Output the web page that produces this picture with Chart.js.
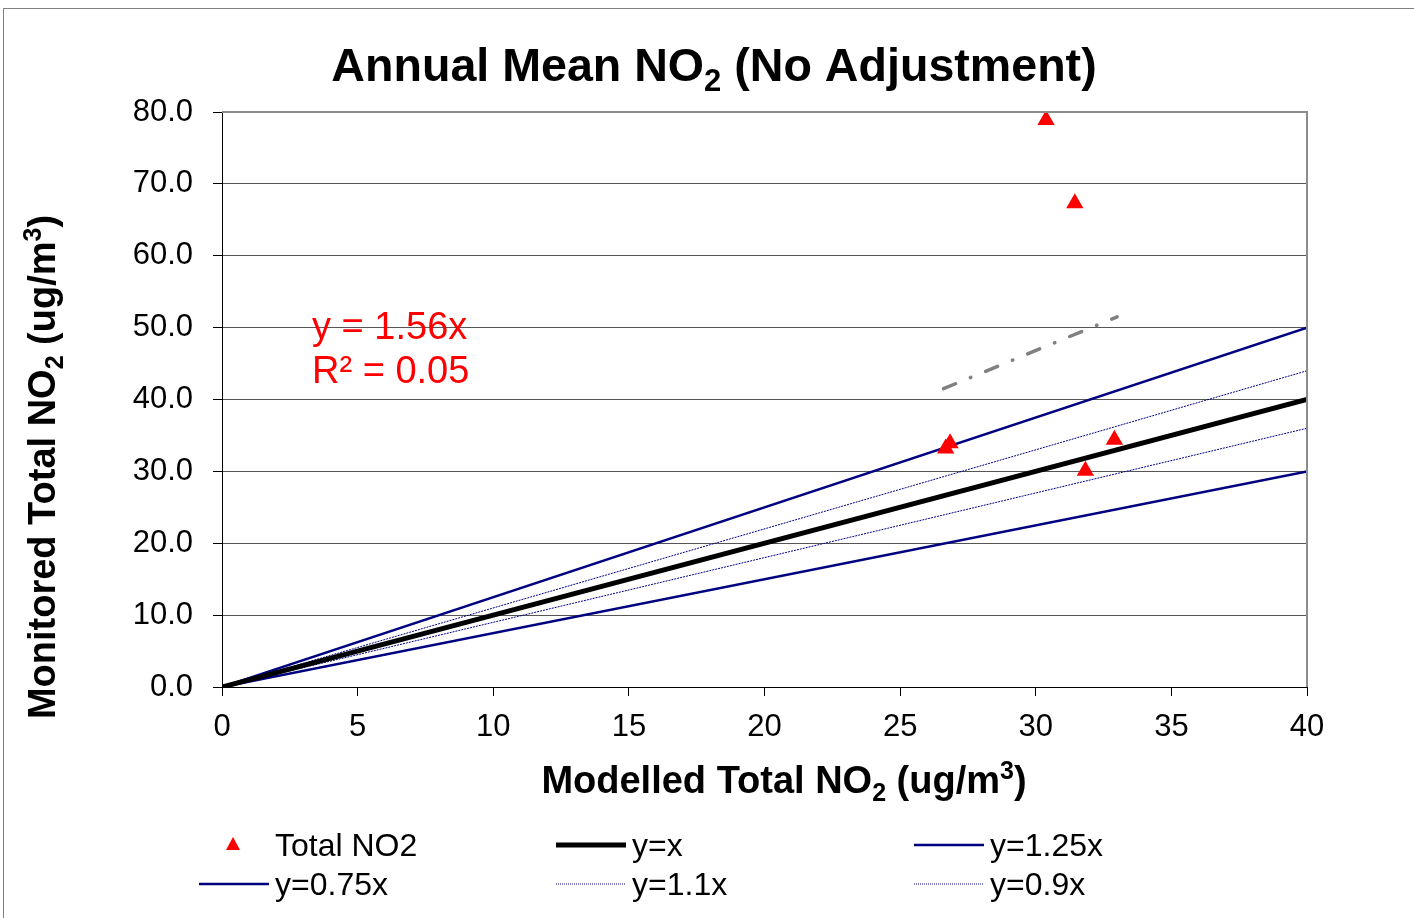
<!DOCTYPE html>
<html>
<head>
<meta charset="utf-8">
<script src="https://cdn.jsdelivr.net/npm/chart.js@4"></script>
<style>
  html, body { margin: 0; padding: 0; background: #fff; }
  #wrap { position: relative; width: 1414px; height: 918px; }
  canvas { display: block; }
</style>
</head>
<body>
<div id="wrap"><canvas id="no2Chart" width="1414" height="918"></canvas></div>
<script>
// --- DATA ---
const modelledNO2 = [30.38, 31.44, 26.68, 26.84, 32.90, 31.83];
const monitoredNO2 = [78.9, 67.3, 33.2, 33.9, 34.4, 30.1];

// reference lines, given by their two end points (x = 0 and x = 40)
const refX = [0, 40];
const refYx = [0, 40];
const refY125 = [0, 50];
const refY075 = [0, 30];
const refY11 = [0, 44];
const refY09 = [0, 36];

// linear trendline through origin, drawn over the range of the data
const trendX = [26.6, 33.0];
const trendY = [41.5, 51.5];

const xTicks = [0, 5, 10, 15, 20, 25, 30, 35, 40];
const yTicks = [0, 10, 20, 30, 40, 50, 60, 70, 80];

const trendLabel = ['y = 1.56x', 'R\u00b2 = 0.05'];

const FONT = '"Liberation Sans", Arial, sans-serif';
const NAVY = '#000080';

const toPoints = (xs, ys) => xs.map((x, i) => ({ x: x, y: ys[i] }));

// --- RICH TEXT (subscript / superscript) ---
function partFont(p, size, bold) {
  const s = (p.sub || p.sup) ? Math.round(size * 0.66) : size;
  return (bold ? 'bold ' : '') + s + 'px ' + FONT;
}

function drawRich(ctx, parts, size, bold, x, y, align) {
  const widths = parts.map(p => { ctx.font = partFont(p, size, bold); return ctx.measureText(p.t).width; });
  const total = widths.reduce((a, b) => a + b, 0);
  let cx = align === 'center' ? x - total / 2 : x;
  ctx.textBaseline = 'alphabetic';
  ctx.textAlign = 'left';
  parts.forEach((p, i) => {
    ctx.font = partFont(p, size, bold);
    let dy = 0;
    if (p.sub) dy = size * 0.22;
    if (p.sup) dy = -size * 0.36;
    ctx.fillText(p.t, cx, y + dy);
    cx += widths[i];
  });
}

// --- DECORATION PLUGIN: borders, titles, trend label, legend ---
const decorPlugin = {
  id: 'decor',
  afterDraw(chart) {
    const ctx = chart.ctx;
    const a = chart.chartArea;
    ctx.save();

    // outer chart border
    ctx.strokeStyle = '#808080';
    ctx.lineWidth = 1;
    ctx.strokeRect(3.5, 8.5, 1500, 1000);

    // plot area top and right border
    ctx.strokeStyle = '#8c8c8c';
    ctx.lineWidth = 2;
    ctx.beginPath();
    ctx.moveTo(a.left, a.top);
    ctx.lineTo(a.right, a.top);
    ctx.lineTo(a.right, a.bottom);
    ctx.stroke();

    ctx.fillStyle = '#000';
    // title
    drawRich(ctx, [{ t: 'Annual Mean NO' }, { t: '2', sub: true }, { t: ' (No Adjustment)' }],
      46.6, true, 714, 81, 'center');

    // x axis title
    drawRich(ctx, [{ t: 'Modelled Total NO' }, { t: '2', sub: true }, { t: ' (ug/m' }, { t: '3', sup: true }, { t: ')' }],
      38, true, 784, 793, 'center');

    // y axis title
    ctx.save();
    ctx.translate(55, 467);
    ctx.rotate(-Math.PI / 2);
    drawRich(ctx, [{ t: 'Monitored Total NO' }, { t: '2', sub: true }, { t: ' (ug/m' }, { t: '3', sup: true }, { t: ')' }],
      38, true, 0, 0, 'center');
    ctx.restore();

    // trendline equation
    ctx.fillStyle = '#ff0000';
    ctx.font = '38px ' + FONT;
    ctx.textAlign = 'left';
    ctx.textBaseline = 'alphabetic';
    ctx.fillText(trendLabel[0], a.left + 90, 339);
    ctx.fillText(trendLabel[1], a.left + 90, 383);

    // legend, 3 columns x 2 rows
    const cols = [275, 632, 990];
    const rows = [845, 884];
    const items = chart.data.datasets.filter(d => d.inLegend);
    items.forEach((d, i) => {
      const tx = cols[i % 3];
      const ry = rows[Math.floor(i / 3)];
      if (d.showLine === false) {
        ctx.fillStyle = d.backgroundColor;
        ctx.beginPath();
        ctx.moveTo(tx - 42, ry - 8);
        ctx.lineTo(tx - 35, ry + 5);
        ctx.lineTo(tx - 49, ry + 5);
        ctx.closePath();
        ctx.fill();
      } else {
        ctx.strokeStyle = d.borderColor;
        ctx.lineWidth = d.borderWidth;
        ctx.setLineDash(d.legendDash || []);
        ctx.beginPath();
        ctx.moveTo(tx - 76, ry);
        ctx.lineTo(tx - 6, ry);
        ctx.stroke();
        ctx.setLineDash([]);
      }
      ctx.fillStyle = '#000';
      ctx.font = '32px ' + FONT;
      ctx.textAlign = 'left';
      ctx.textBaseline = 'alphabetic';
      ctx.fillText(d.label, tx, ry + 11);
    });

    ctx.restore();
  }
};

// --- CHART ---
const lineDefaults = { showLine: true, pointRadius: 0, fill: false, tension: 0 };

const no2Chart = new Chart(document.getElementById('no2Chart'), {
  type: 'scatter',
  data: {
    datasets: [
      {
        label: 'Total NO2', inLegend: true, showLine: false,
        data: toPoints(modelledNO2, monitoredNO2),
        pointStyle: 'triangle', pointRadius: 10, pointHoverRadius: 10,
        backgroundColor: '#ff0000', borderColor: '#ff0000', borderWidth: 0
      },
      { label: 'y=x', inLegend: true, ...lineDefaults, data: toPoints(refX, refYx), borderColor: '#000000', borderWidth: 5 },
      { label: 'y=1.25x', inLegend: true, ...lineDefaults, data: toPoints(refX, refY125), borderColor: NAVY, borderWidth: 2.5 },
      { label: 'y=0.75x', inLegend: true, ...lineDefaults, data: toPoints(refX, refY075), borderColor: NAVY, borderWidth: 2.5 },
      { label: 'y=1.1x', inLegend: true, ...lineDefaults, data: toPoints(refX, refY11), borderColor: NAVY, borderWidth: 1, borderDash: [2, 1], legendDash: [1, 1] },
      { label: 'y=0.9x', inLegend: true, ...lineDefaults, data: toPoints(refX, refY09), borderColor: NAVY, borderWidth: 1, borderDash: [2, 1], legendDash: [1, 1] },
      {
        label: 'Linear (Total NO2)', inLegend: false, ...lineDefaults,
        data: toPoints(trendX, trendY),
        borderColor: '#808080', borderWidth: 3.5, borderDash: [13, 16, 0.5, 16], borderCapStyle: 'round'
      }
    ]
  },
  options: {
    responsive: false,
    maintainAspectRatio: false,
    animation: false,
    events: [],
    layout: { padding: { left: 0, right: 107, top: 112, bottom: 0 } },
    plugins: {
      legend: { display: false },
      title: { display: false },
      tooltip: { enabled: false }
    },
    scales: {
      x: {
        type: 'linear', min: 0, max: 40,
        afterBuildTicks: s => { s.ticks = xTicks.map(v => ({ value: v })); },
        afterFit: s => { s.height = 231; },
        grid: { drawOnChartArea: false, drawTicks: true, tickLength: 9, tickColor: '#000' },
        border: { display: true, color: '#000', width: 1 },
        ticks: { color: '#000', font: { family: FONT, size: 31 }, padding: 13, maxRotation: 0 }
      },
      y: {
        type: 'linear', min: 0, max: 80,
        afterBuildTicks: s => { s.ticks = yTicks.map(v => ({ value: v })); },
        afterFit: s => { s.width = 222; },
        grid: { color: '#555', lineWidth: 1, drawTicks: true, tickLength: 9, tickColor: '#000' },
        border: { display: true, color: '#000', width: 1 },
        ticks: { color: '#000', font: { family: FONT, size: 31 }, padding: 20, callback: v => v.toFixed(1) }
      }
    }
  },
  plugins: [decorPlugin]
});
</script>
</body>
</html>
